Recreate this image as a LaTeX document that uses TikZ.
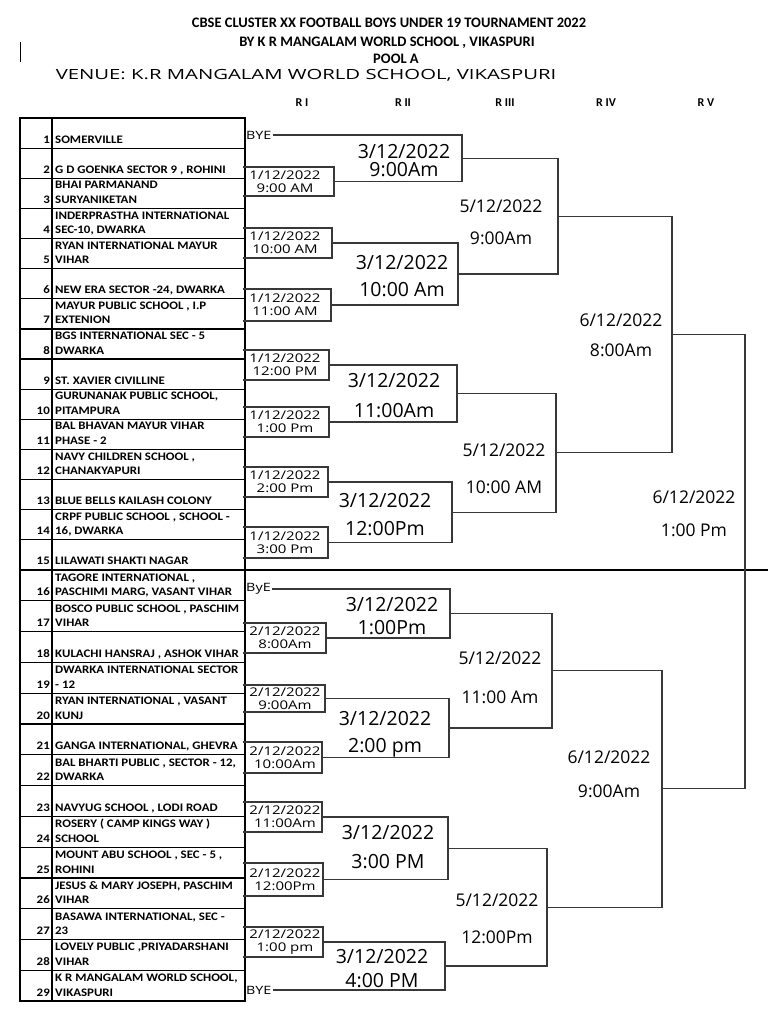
\documentclass[tikz,border=0pt]{standalone}
\usepackage{fontspec}
\setmainfont{Carlito}
\newfontfamily\tabfont[FakeStretch=1.12]{Carlito}
\newfontfamily\handfont{Open Sans}
\newfontfamily\handwide[FakeStretch=1.25]{Open Sans}
\newfontfamily\handvenue[FakeStretch=1.45]{Open Sans}
\usetikzlibrary{calc}

% one match: top entry, bottom entry, x of the joint, name of the winner
\newcommand{\bout}[4]{%
  \coordinate (col) at (#3,0);
  \draw[bracket] (#1) -- (#1 -| col) -- (#2 -| col) -- (#2);
  \coordinate (#4) at ($(#1 -| col)!0.5!(#2 -| col)$);}

\begin{document}
\begin{tikzpicture}[x=1pt,y=-1pt,
  bracket/.style={line width=1.1pt,draw=black!78},
  grid/.style={line width=1.2pt},
  team/.style={font=\tabfont\bfseries\fontsize{11.5}{14}\selectfont,inner sep=0pt},
  head/.style={font=\bfseries\fontsize{14.5}{16}\selectfont},
  rnd/.style={font=\bfseries\fontsize{12}{14}\selectfont},
  bye/.style={font=\handwide\fontsize{11.5}{12}\selectfont,anchor=west,inner sep=1pt},
  r1when/.style={font=\handwide\fontsize{12}{13}\selectfont,align=center,inner sep=0pt},
  r2when/.style={font=\handfont\fontsize{19.5}{#1}\selectfont,align=center,inner sep=0pt},
  r3when/.style={font=\handfont\fontsize{17.5}{#1}\selectfont,align=center,inner sep=0pt},
  r4when/.style={font=\handfont\fontsize{17.5}{#1}\selectfont,align=center,inner sep=0pt}]

\useasboundingbox[fill=white] (0,0) rectangle (768,1024);

% heading
\node[head] (title) at (389,23) {CBSE CLUSTER XX FOOTBALL BOYS UNDER 19 TOURNAMENT 2022};
\node[head] (host) at (387,43) {BY K R MANGALAM WORLD SCHOOL , VIKASPURI};
\node[head] (pool) at (396,59) {POOL A};
\node[font=\handvenue\fontsize{14}{16}\selectfont] (venue) at (306,75) {VENUE: K.R MANGALAM WORLD SCHOOL, VIKASPURI};
\draw[line width=1pt] (20,42) -- (20,62);
\foreach \r/\x in {R I/302, R II/403, R III/505, R IV/606, R V/706}
  \node[rnd] at (\x,103) {\r};

% table of teams
\draw[grid] (20,118) rectangle (245,1001);
\draw[grid] (52,118) -- (52,1001);
\foreach \k in {1,...,28} {
  \pgfmathsetmacro\yb{\k<16 ? 118+\k*30.13 : 570+(\k-15)*30.8}
  \draw[grid] (20,\yb) -- (245,\yb);
}
\draw[grid] (245,570) -- (768,570);
\foreach \k/\la/\lb in {1/{}/SOMERVILLE, 2/{}/{G D GOENKA SECTOR 9 , ROHINI},
    3/BHAI PARMANAND/SURYANIKETAN, 4/INDERPRASTHA INTERNATIONAL/{SEC-10, DWARKA},
    5/RYAN INTERNATIONAL MAYUR/VIHAR, 6/{}/{NEW ERA SECTOR -24, DWARKA},
    7/{MAYUR PUBLIC SCHOOL , I.P}/EXTENION, 8/BGS INTERNATIONAL SEC - 5/DWARKA,
    9/{}/ST. XAVIER CIVILLINE, 10/{GURUNANAK PUBLIC SCHOOL,}/PITAMPURA,
    11/BAL BHAVAN MAYUR VIHAR/PHASE - 2, 12/{NAVY CHILDREN SCHOOL ,}/CHANAKYAPURI,
    13/{}/BLUE BELLS KAILASH COLONY, 14/{CRPF PUBLIC SCHOOL , SCHOOL -}/{16, DWARKA},
    15/{}/LILAWATI SHAKTI NAGAR, 16/{TAGORE INTERNATIONAL ,}/{PASCHIMI MARG, VASANT VIHAR},
    17/{BOSCO PUBLIC SCHOOL , PASCHIM}/VIHAR, 18/{}/{KULACHI HANSRAJ , ASHOK VIHAR},
    19/DWARKA INTERNATIONAL SECTOR/- 12, 20/{RYAN INTERNATIONAL , VASANT}/KUNJ,
    21/{}/{GANGA INTERNATIONAL, GHEVRA}, 22/{BAL BHARTI PUBLIC , SECTOR - 12,}/DWARKA,
    23/{}/{NAVYUG SCHOOL , LODI ROAD}, 24/ROSERY ( CAMP KINGS WAY )/SCHOOL,
    25/{MOUNT ABU SCHOOL , SEC - 5 ,}/ROHINI, 26/{JESUS \& MARY JOSEPH, PASCHIM}/VIHAR,
    27/{BASAWA INTERNATIONAL, SEC -}/23, 28/{LOVELY PUBLIC ,PRIYADARSHANI}/VIHAR,
    29/{K R MANGALAM WORLD SCHOOL,}/VIKASPURI} {
  \pgfmathsetmacro\yb{\k<16 ? 118+\k*30.13 : 570+(\k-15)*30.8}
  \node[team,anchor=base east] (n\k) at (50,\yb-5) {\k};
  \node[team,anchor=base west] (s\k) at (55,\yb-5) {\lb};
  \node[team,anchor=base west] at (55,\yb-19.5) {\la};
}

% entry lines
\foreach \k/\y in {2/167,3/196,4/228,5/258,6/289,7/321,8/350,9/380,10/407,11/437,
    12/467,13/497,14/527,15/558,17/623,18/653,19/685,20/712,21/742,22/773,
    23/802,24/832,25/863,26/896,27/927,28/957}
  \coordinate (t\k) at (243,\y);
\node[bye] (t1) at (245,135) {BYE};
\node[bye] (t16) at (245,589) {ByE};
\node[bye] (t29) at (245,990) {BYE};

% R I
\foreach \a/\b/\x in {2/3/334,4/5/332,6/7/331,8/9/329,10/11/329,12/13/328,14/15/328,
    17/18/326,19/20/325,21/22/322,23/24/322,25/26/323,27/28/323}
  \bout{t\a}{t\b}{\x}{w\a};
% R II
\foreach \a/\b/\x/\n in {t1.east/w2/462/1,w4/w6/458/2,w8/w10/457/3,w12/w14/452/4,
    t16.east/w17/450/5,w19/w21/449/6,w23/w25/448/7,w27/t29.east/445/8}
  \bout{\a}{\b}{\x}{q\n};
% R III
\bout{q1}{q2}{558}{s1}
\bout{q3}{q4}{556}{s2}
\bout{q5}{q6}{552}{s3}
\bout{q7}{q8}{547}{s4}
% R IV and R V
\bout{s1}{s2}{672}{f1}
\bout{s3}{s4}{662}{f2}
\bout{f1}{f2}{745}{champ}

% dates and times
\coordinate (r1c) at (285,0);
\foreach \a/\d/\t in {2/1/9:00 AM, 4/1/10:00 AM, 6/1/11:00 AM, 8/1/12:00 PM,
    10/1/1:00 Pm, 12/1/2:00 Pm, 14/1/3:00 Pm, 17/2/8:00Am, 19/2/9:00Am,
    21/2/10:00Am, 23/2/11:00Am, 25/2/12:00Pm, 27/2/1:00 pm}
  \node[r1when] at (w\a -| r1c) {\d/12/2022\\\t};
\foreach \x/\y/\s/\t in {404/161/18/9:00Am, 402/276/27/10:00 Am, 394/396/30/11:00Am,
    385/515/28/12:00Pm, 392/616/23/1:00Pm, 385/734/27/2:00 pm, 388/847/29/3:00 PM,
    382/969/24/4:00 PM}
  \node[r2when=\s] at (\x,\y) {3/12/2022\\\t};
\foreach \x/\y/\s/\t in {501/222/32/9:00Am, 504/469/37/10:00 AM, 500/678/39/11:00 Am,
    497/919/37/12:00Pm}
  \node[r3when=\s] at (\x,\y) {5/12/2022\\\t};
\node[r4when=30] at (621,335) {6/12/2022\\8:00Am};
\node[r4when=34] at (609,774) {6/12/2022\\9:00Am};
\node[r4when=33] at (694,514) {6/12/2022\\1:00 Pm};
\end{tikzpicture}
\end{document}
